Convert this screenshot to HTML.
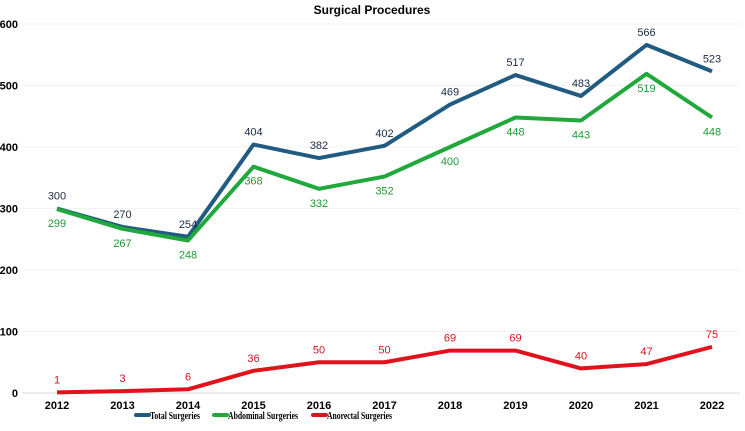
<!DOCTYPE html>
<html><head><meta charset="utf-8"><style>
body{margin:0;background:#fff;}
svg{display:block;font-family:"Liberation Sans",sans-serif;}
</style></head><body>
<svg id="c" width="745" height="431">
<text x="372" y="14" text-anchor="middle" font-size="12" font-weight="bold">Surgical Procedures</text>
<g id="grid"></g><g id="lines"></g><g id="labels"></g>
<g font-family="'Liberation Serif',serif" font-weight="bold" font-size="11">
<g><line x1="136" y1="415" x2="149" y2="415" stroke="#215b82" stroke-width="4" stroke-linecap="round"/><text x="150" y="419" textLength="50" lengthAdjust="spacingAndGlyphs">Total Surgeries</text></g>
<g><line x1="214" y1="415" x2="227" y2="415" stroke="#21a83c" stroke-width="4" stroke-linecap="round"/><text x="228" y="419" textLength="70" lengthAdjust="spacingAndGlyphs">Abdominal Surgeries</text></g>
<g><line x1="313" y1="415" x2="326" y2="415" stroke="#e0131c" stroke-width="4" stroke-linecap="round"/><text x="327" y="419" textLength="65" lengthAdjust="spacingAndGlyphs">Anorectal Surgeries</text></g>
</g>
</svg>
<script>
const years=["2012","2013","2014","2015","2016","2017","2018","2019","2020","2021","2022"];
const totalVals=[300,270,254,404,382,402,469,517,483,566,523];
const abdominalVals=[299,267,248,368,332,352,400,448,443,519,448];
const anorectalVals=[1,3,6,36,50,50,69,69,40,47,75];
const yTicks=[0,100,200,300,400,500,600];
const NS="http://www.w3.org/2000/svg";
function x(i){return 57+i*65.5;}
function y(v){return 393-v*0.615;}
function mk(tag,attrs,parent){const e=document.createElementNS(NS,tag);for(const k in attrs)e.setAttribute(k,attrs[k]);parent.appendChild(e);return e;}
const grid=document.getElementById('grid'),lines=document.getElementById('lines'),labels=document.getElementById('labels');
yTicks.forEach(t=>{
 const l=mk('line',{x1:22,x2:740,y1:y(t),y2:y(t),stroke:t===0?'#d8d8d8':'#f3f3f3','stroke-width':1},grid);
 
 
 const tx=mk('text',{x:18,y:y(t)+4,'text-anchor':'end','font-size':11,'font-weight':'bold'},grid);
 tx.textContent=t;
 
 
});
years.forEach((yr,i)=>{
 const tx=mk('text',{x:x(i),y:409,'text-anchor':'middle','font-size':11,'font-weight':'bold'},grid);
 tx.textContent=yr;
 
 
});
function series(vals,color,name,below,textColor){
 const p=mk('polyline',{points:vals.map((v,i)=>x(i)+','+y(v)).join(' '),fill:'none',stroke:color,'stroke-width':4,'stroke-linejoin':'round'},lines);
 
 
 vals.forEach((v,i)=>{
  const t=mk('text',{x:x(i),y:below?y(v)+18:y(v)-9,'text-anchor':'middle','font-size':11,fill:textColor},labels);
  t.textContent=v;
  
  
 });
}
series(totalVals,'#215b82','total',false,'#1a2a44');
series(abdominalVals,'#21a83c','abdominal',true,'#1f9a35');
series(anorectalVals,'#e0131c','anorectal',false,'#d0141c');
</script>
</body></html>
